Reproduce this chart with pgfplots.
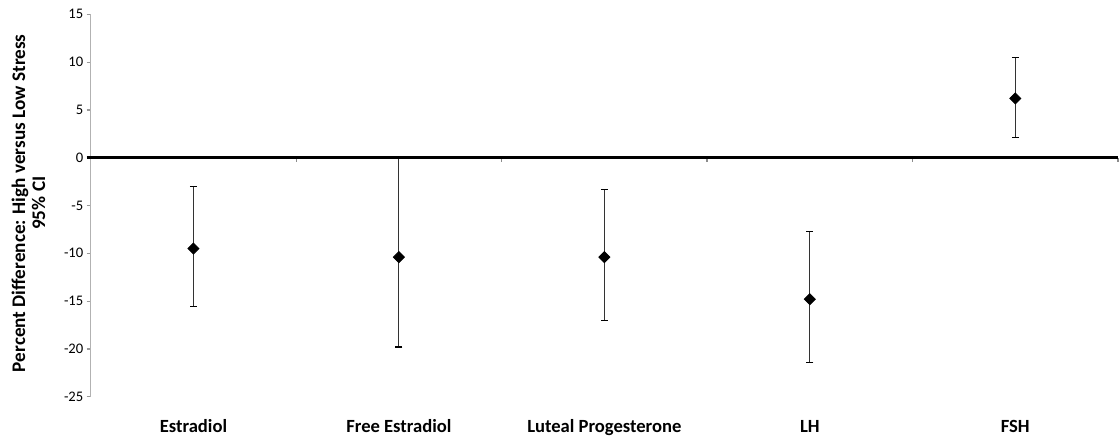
\documentclass[border=0pt]{standalone}
\usepackage{pgfplots}
\pgfplotsset{compat=1.18}
\usepackage{pgfplotstable}
\usepackage{fontspec}
\setmainfont{Carlito}
\pgfplotstableread{
x  y     ep    em
0  -9.5  6.5   6.1
1  -10.4 10.4  9.4
2  -10.4 7.05  6.6
3  -14.8 7.1   6.6
4  6.2   4.3   4.1
}\datatable
\begin{document}
\begin{tikzpicture}
\useasboundingbox (0,0) rectangle (559.5pt,218pt);
\begin{axis}[
  at={(45.35pt,19.65pt)}, anchor=south west,
  scale only axis, width=513.65pt, height=191.2pt,
  xmin=-0.5, xmax=4.5, ymin=-25, ymax=15,
  xtick={0,1,2,3,4},
  xticklabels={Estradiol,Free Estradiol,Luteal Progesterone,LH,FSH},
  ytick={-25,-20,...,15},
  axis x line*=bottom, axis y line*=left,
  x axis line style={draw=none},
  y axis line style={draw=black!30, line width=0.6pt},
  xtick style={draw=none},
  ytick style={draw=black!40, line width=0.6pt},
  tick align=outside, major tick length=2pt,
  /pgf/number format/assume math mode=true,
  yticklabel style={font=\fontsize{7.3}{8}\selectfont, inner sep=1.5pt},
  xticklabel style={font=\fontsize{9.3}{10}\selectfont\bfseries, anchor=base, yshift=-15.8pt},
  ylabel={Percent Difference: High versus Low Stress\\95\% CI},
  ylabel style={font=\fontsize{9.6}{10}\selectfont\bfseries, align=center, anchor=center, at={(axis description cs:-0.0605,0.506)}},
  clip=false,
]
\draw[black!45, line width=0.6pt]
  ([yshift=-2pt]axis cs:0.5,0) -- (axis cs:0.5,0)
  ([yshift=-2pt]axis cs:1.5,0) -- (axis cs:1.5,0)
  ([yshift=-2pt]axis cs:2.5,0) -- (axis cs:2.5,0)
  ([yshift=-2pt]axis cs:3.5,0) -- (axis cs:3.5,0)
  ([yshift=-2pt]axis cs:4.5,0) -- (axis cs:4.5,0);
\addplot[only marks, mark=square*, mark size=1.95pt, mark options={rotate=45, fill=black, draw=black},
  error bars/.cd, y dir=both, y explicit,
  error bar style={black!80, line width=0.55pt},
  error mark options={rotate=90, black, mark size=1.75pt, line width=0.55pt}]
  table[x=x, y=y, y error plus=ep, y error minus=em]{\datatable};
\draw[black, line width=1.3pt] ([xshift=-2pt]axis cs:-0.5,0) -- (axis cs:4.5,0);
\end{axis}
\end{tikzpicture}
\end{document}
